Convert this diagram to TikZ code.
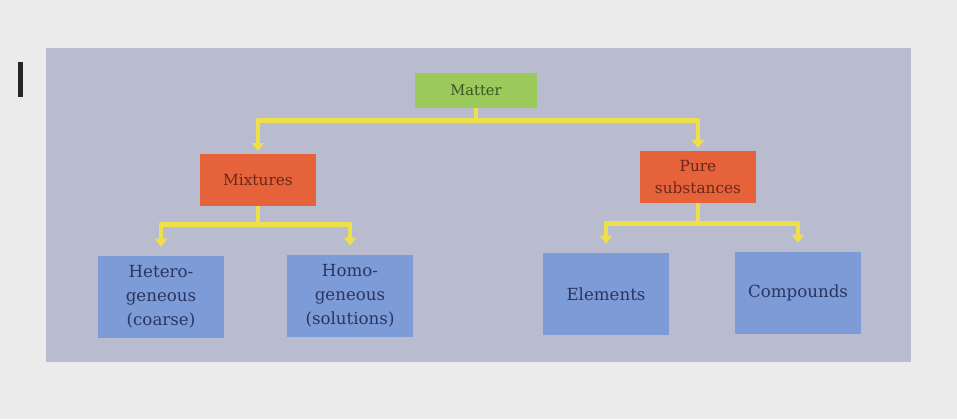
\documentclass[tikz,border=0pt]{standalone}
\usepackage{fontspec}
\setmainfont{DejaVu Serif}
\usetikzlibrary{arrows.meta}

\definecolor{pagebg}{HTML}{EBEBEB}
\definecolor{panelbg}{HTML}{B9BCCF}
\definecolor{mattergreen}{HTML}{9CC95C}
\definecolor{mattertext}{HTML}{3A5520}
\definecolor{mixorange}{HTML}{E5623B}
\definecolor{mixtext}{HTML}{6A2818}
\definecolor{leafblue}{HTML}{7C9BD7}
\definecolor{leaftext}{HTML}{2B3561}
\definecolor{linkyellow}{HTML}{EEE04A}

\tikzset{
  topbox/.style={fill=mattergreen, text=mattertext, minimum width=91pt, minimum height=26pt,
    font=\fontsize{11}{13}\selectfont},
  midbox/.style={fill=mixorange, text=mixtext, minimum width=87pt, minimum height=39pt,
    align=center, font=\fontsize{11.5}{16}\selectfont},
  leafbox/.style={fill=leafblue, text=leaftext, minimum width=94pt, minimum height=61pt,
    align=center, font=\fontsize{12.5}{18}\selectfont},
  link/.style={draw=linkyellow, line width=3.6pt, line join=round,
    -{Triangle[length=6pt, width=9pt]}}
}

\begin{document}
\begin{tikzpicture}[x=0.75pt, y=-0.75pt]
% Page and panel
\fill[pagebg] (0,0) rectangle (957,419);
\useasboundingbox (0,0) rectangle (957,419);
\fill[black!85] (18,62) rectangle (23,97);
\fill[panelbg] (46,48) rectangle (911,362);

% Boxes
\node[topbox] (matter) at (476,90.5) {Matter};
\node[midbox] (mix) at (258,180) {Mixtures};
\node[midbox] (pure) at (698,177) {Pure\\substances};
\node[leafbox] (hetero) at (161,297) {Hetero-\\geneous\\(coarse)};
\node[leafbox] (homo) at (350,296) {Homo-\\geneous\\(solutions)};
\node[leafbox] (elem) at (606,294) {Elements};
\node[leafbox] (comp) at (798,293) {Compounds};

% Yellow links
\draw[link, shorten >=2pt] (matter.south) -- ++(0,12) -| (mix.north);
\draw[link, shorten >=2pt] (matter.south) -- ++(0,12) -| (pure.north);
\draw[link, shorten >=7pt] (mix.south) -- ++(0,18) -| (hetero.north);
\draw[link, shorten >=7pt] (mix.south) -- ++(0,18) -| (homo.north);
\draw[link, shorten >=7pt] (pure.south) -- ++(0,20) -| (elem.north);
\draw[link, shorten >=7pt] (pure.south) -- ++(0,20) -| (comp.north);

\end{tikzpicture}
\end{document}
